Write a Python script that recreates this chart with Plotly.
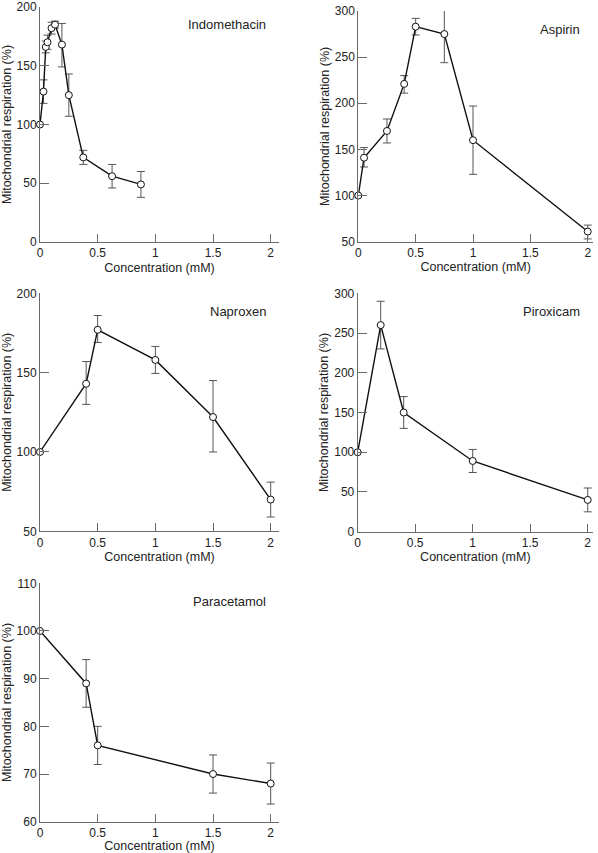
import plotly.graph_objects as go

# ---------------- data ----------------
indo_conc = [0, 0.03, 0.05, 0.065, 0.1, 0.13, 0.19, 0.25, 0.375, 0.625, 0.875]
indo_resp = [100, 128, 166, 170, 182, 185, 168, 125, 72, 56, 49]
indo_up = [0, 10, 5, 6, 5, 3, 18, 18, 6, 10, 11]
indo_dn = [0, 10, 5, 6, 5, 3, 19, 18, 6, 10, 11]

asp_conc = [0, 0.05, 0.25, 0.4, 0.5, 0.75, 1, 2]
asp_resp = [100, 141, 170, 221, 283, 275, 160, 61]
asp_up = [0, 11, 13, 9, 9, 30, 37, 7]
asp_dn = [0, 10, 13, 10, 9, 31, 37, 8]

nap_conc = [0, 0.4, 0.5, 1, 1.5, 2]
nap_resp = [100, 143, 177, 158, 122, 70]
nap_up = [0, 14, 9, 8.5, 23, 11]
nap_dn = [0, 13, 8, 8.5, 22, 11]

pir_conc = [0, 0.2, 0.4, 1, 2]
pir_resp = [100, 260, 150, 89, 40]
pir_up = [0, 30, 20, 14.5, 15]
pir_dn = [0, 30, 20, 14.5, 15]

par_conc = [0, 0.4, 0.5, 1.5, 2]
par_resp = [100, 89, 76, 70, 68]
par_up = [0, 5, 4, 4, 4.3]
par_dn = [0, 5, 4, 4, 4.3]

x_ticks = [0, 0.5, 1, 1.5, 2]
x_tick_labels = ["0", "0.5", "1", "1.5", "2"]

panels = [
    # name, x, y, up, down, ytick values
    ("Indomethacin", indo_conc, indo_resp, indo_up, indo_dn, [0, 50, 100, 150, 200]),
    ("Aspirin", asp_conc, asp_resp, asp_up, asp_dn, [50, 100, 150, 200, 250, 300]),
    ("Naproxen", nap_conc, nap_resp, nap_up, nap_dn, [50, 100, 150, 200]),
    ("Piroxicam", pir_conc, pir_resp, pir_up, pir_dn, [0, 50, 100, 150, 200, 250, 300]),
    ("Paracetamol", par_conc, par_resp, par_up, par_dn, [60, 70, 80, 90, 100, 110]),
]

# ---------------- layout geometry (pixels) ----------------
W, H = 598, 853
# left, right, top, bottom of each plot area in pixels, plus x-range max
boxes = [
    (40, 279, 7, 242, 2.072),
    (358.3, 593, 11, 241.7, 2.046),
    (40, 279, 293.3, 531.3, 2.072),
    (357.7, 593, 293.3, 531.7, 2.046),
    (40, 279, 583.3, 821.7, 2.072),
]

FONT = "Liberation Sans, Arial, Helvetica, sans-serif"
AXC = "#6a6a6a"

fig = go.Figure()
annotations = []
layout = {}

for i, ((name, xs, ys, up, dn, yt), (l, r, t, b, xmax)) in enumerate(zip(panels, boxes)):
    n = i + 1
    xa = "x" if n == 1 else f"x{n}"
    ya = "y" if n == 1 else f"y{n}"
    fig.add_trace(go.Scatter(
        x=xs, y=ys, xaxis=xa, yaxis=ya, mode="lines+markers",
        line=dict(color="#111111", width=1.4),
        marker=dict(symbol="circle", size=7, color="white",
                    line=dict(color="#111111", width=1)),
        error_y=dict(type="data", symmetric=False, array=up, arrayminus=dn,
                     color="#555555", thickness=1, width=4),
        cliponaxis=False, showlegend=False, name=name,
    ))
    xdom = [l / W, r / W]
    ydom = [1 - b / H, 1 - t / H]
    layout[f"xaxis{'' if n == 1 else n}"] = dict(
        domain=xdom, anchor=ya, range=[0, xmax], automargin=False,
        tickmode="array", tickvals=x_ticks, ticktext=x_tick_labels,
        ticks="inside", ticklen=8, tickcolor=AXC, tickwidth=1,
        ticklabeloverflow="allow",
        showline=True, linecolor=AXC, linewidth=1, showgrid=False, zeroline=False,
        tickfont=dict(family=FONT, size=12, color="#222"),
        title=dict(text="Concentration (mM)", standoff=3,
                   font=dict(family=FONT, size=12.5, color="#222")),
    )
    layout[f"yaxis{'' if n == 1 else n}"] = dict(
        domain=ydom, anchor=xa, range=[yt[0], yt[-1]], automargin=False,
        tickmode="array", tickvals=yt,
        ticks="inside", ticklen=9, tickcolor=AXC, tickwidth=1,
        ticklabeloverflow="allow",
        showline=True, linecolor=AXC, linewidth=1, showgrid=False, zeroline=False,
        tickfont=dict(family=FONT, size=12, color="#222"),
        title=dict(text="Mitochondrial respiration (%)", standoff=2,
                   font=dict(family=FONT, size=12.5, color="#222")),
    )
    annotations.append(dict(
        text=name, xref="paper", yref="paper",
        x=(r - 11) / W, y=1 - (max(t, 5) + 18) / H,
        xanchor="right", yanchor="middle", showarrow=False,
        font=dict(family=FONT, size=13, color="#222"),
    ))

fig.update_layout(
    width=W, height=H, margin=dict(l=0, r=0, t=0, b=0, autoexpand=False),
    paper_bgcolor="white", plot_bgcolor="white",
    annotations=annotations, **layout,
)

fig.write_html(
    "out.html",
    config={"displayModeBar": False},
    post_script="document.body.style.margin='0';document.body.style.padding='0';"
                "document.body.style.overflow='hidden';",
)
